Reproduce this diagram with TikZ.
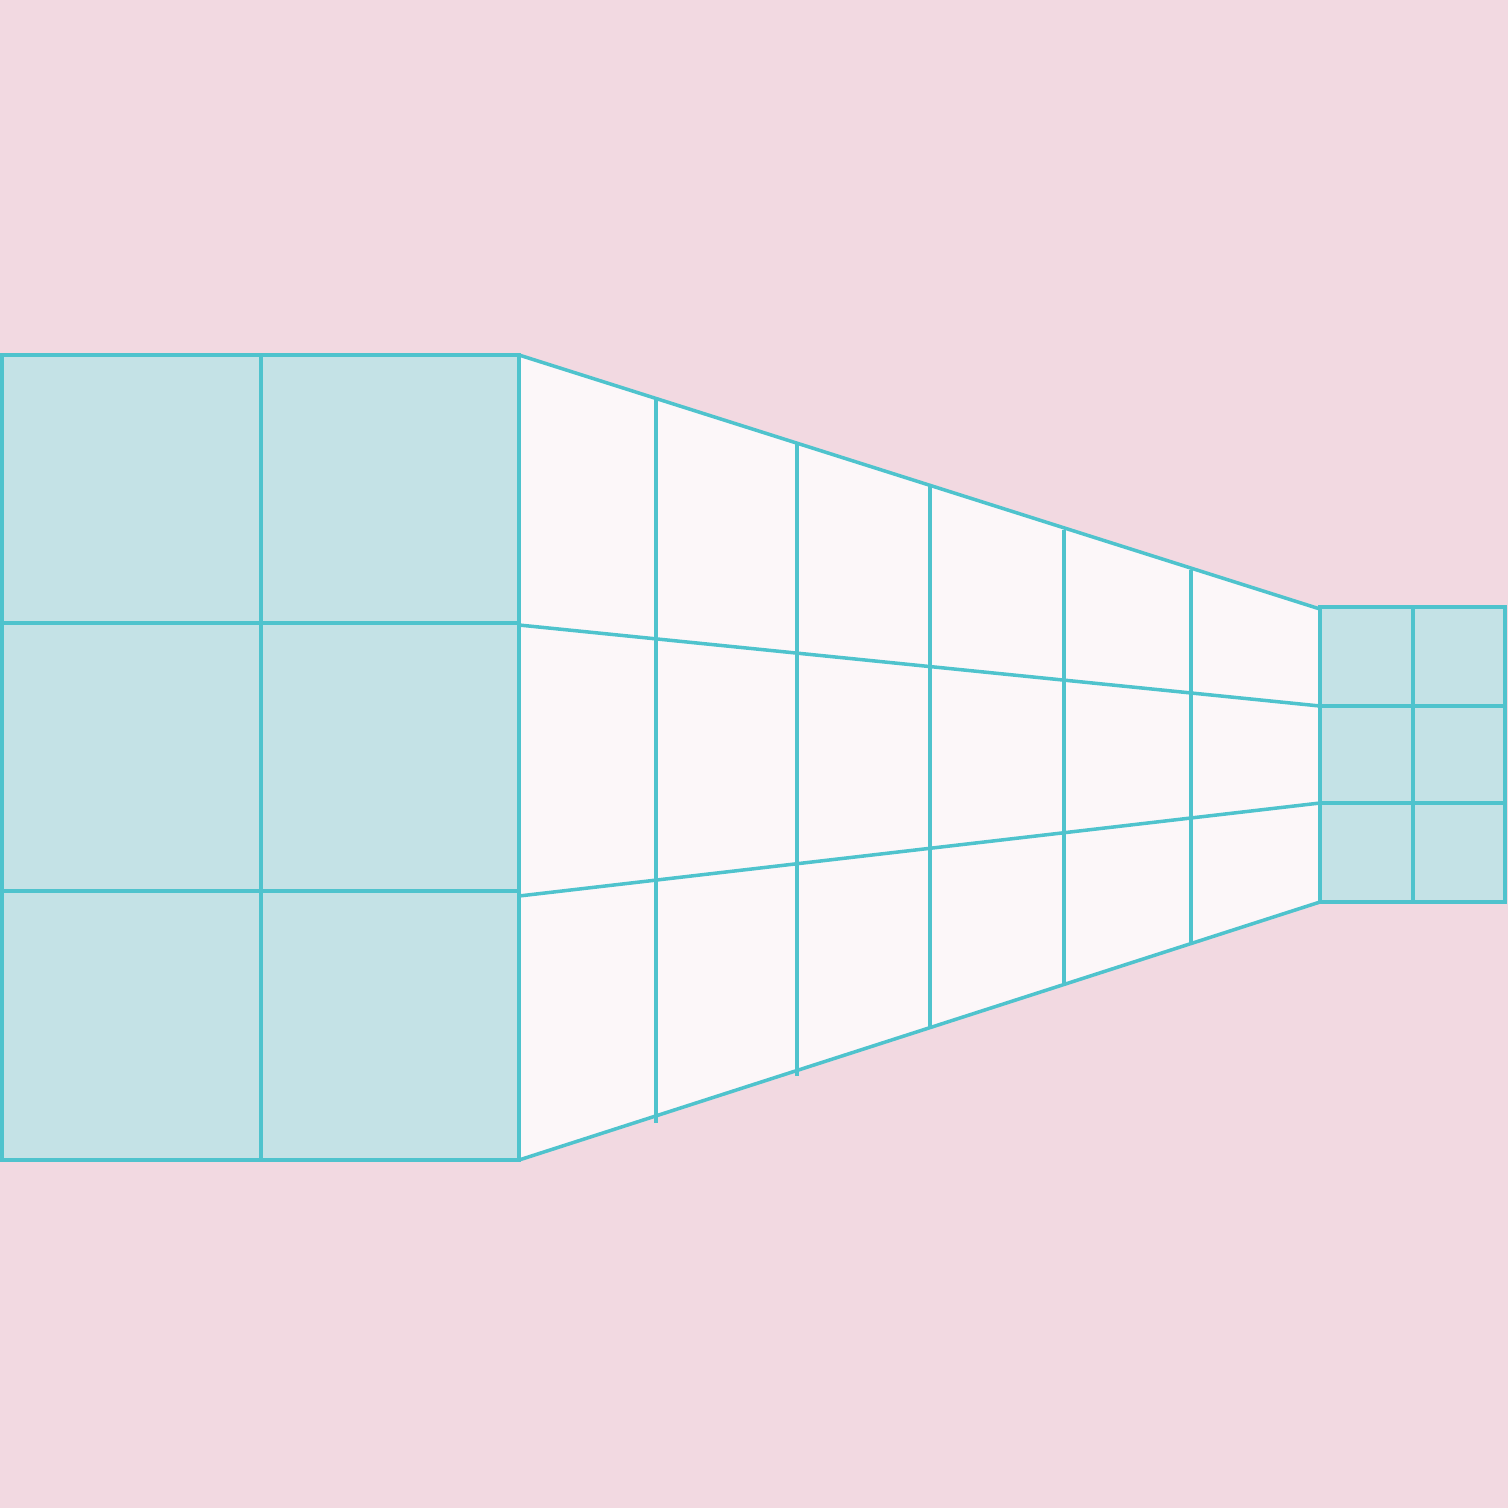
\documentclass[tikz,border=0pt]{standalone}
\definecolor{TLPink}{HTML}{F2D9E1}
\definecolor{TLFace}{HTML}{C4E2E6}
\definecolor{TLLine}{HTML}{4FC3CD}
\definecolor{TLWhite}{HTML}{FCF7F9}
\usepackage{tikz}
\usetikzlibrary{calc}

\begin{document}
\begin{tikzpicture}[x=0.01cm, y=-0.01cm, line width=1pt]
    \fill[TLPink] (0,0) rectangle (1508,1508);
    % near wall
    \filldraw[fill=TLFace, draw=TLLine] (2,355) rectangle (519,1160);
    \draw[TLLine] (261,355) -- (261,1160);
    \foreach \y in {623,891} \draw[TLLine] (2,\y) -- (519,\y);
    % corridor
    \coordinate (nt) at (519,355);
    \coordinate (nb) at (519,1160);
    \coordinate (ft) at (1320,609);
    \coordinate (fb) at (1320,902);
    \fill[TLWhite] (nt) -- (ft) -- (fb) -- (nb) -- cycle;
    \draw[TLLine] (nt) -- (ft);
    \draw[TLLine] (nb) -- (fb);
    \draw[TLLine] (519,625) -- (1320,706);
    \draw[TLLine] (519,896) -- (1320,803);
    \foreach \x/\a/\b in {656/399/1123, 797/444/1076, 930/486/1028, 1064/530/985, 1191/570/943}
      \draw[TLLine] (\x,\a) -- (\x,\b);
    \draw[TLLine] (519,355) -- (519,1160);
    % far wall
    \filldraw[fill=TLFace, draw=TLLine] (1320,607) rectangle (1505,902);
    \draw[TLLine] (1413,607) -- (1413,902);
    \foreach \y in {706,803} \draw[TLLine] (1320,\y) -- (1505,\y);
  \end{tikzpicture}
\end{document}
